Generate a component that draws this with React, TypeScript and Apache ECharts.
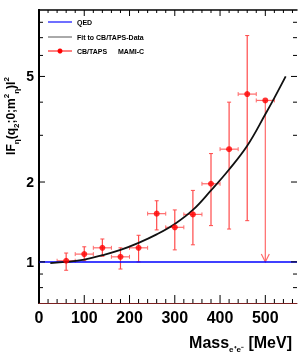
import React, { useEffect, useRef } from "react";
import * as echarts from "echarts";

const FONT = '"Liberation Sans", Arial, Helvetica, sans-serif';

const X_MIN = 0;
const X_MAX = 570;
const Y_MIN = 0.7;
const Y_MAX = 8.9;

const xMajorTicks = [0, 100, 200, 300, 400, 500];
const xMinorTicks = [20, 40, 60, 80, 120, 140, 160, 180, 220, 240, 260, 280, 320, 340, 360, 380, 420, 440, 460, 480, 520, 540, 560];
const yMajorTicks = [1, 2, 5];
const yMinorTicks = [0.8, 0.9, 3, 4, 6, 7, 8];
const yTickLabels = ["1", "2", "5"];

// QED prediction
const qedX = [0, 570];
const qedY = [1, 1];

// Fit to CB/TAPS data
const fitX = [25, 60, 100, 140, 180, 220, 260, 300, 340, 380, 420, 460, 500, 520, 545];
const fitY = [0.99, 1.0, 1.02, 1.06, 1.11, 1.18, 1.27, 1.39, 1.57, 1.86, 2.23, 2.74, 3.6, 4.15, 5.0];

// CB/TAPS MAMI-C data points
const dataX = [60, 100, 140, 180, 220, 260, 300, 340, 380, 420, 460];
const dataY = [1.01, 1.07, 1.13, 1.045, 1.13, 1.52, 1.35, 1.51, 1.97, 2.66, 4.29];
const dataXErr = [20, 20, 20, 20, 20, 20, 20, 20, 20, 20, 20];
const dataYLow = [0.93, 1.01, 1.05, 0.94, 1.0, 1.32, 1.11, 1.16, 1.37, 1.33, 1.43];
const dataYHigh = [1.08, 1.14, 1.22, 1.13, 1.26, 1.7, 1.57, 1.86, 2.56, 4.0, 7.13];

// upper-limit point
const limitX = [500];
const limitY = [4.06];
const limitXErr = [20];
const limitTo = [1.0];

const ERR_V = "#ff4a4a";
const ERR_H = "#ff6a6a";

function xTickSeries(values: number[], lenBottom: number, lenTop: number) {
  return {
    type: "custom",
    silent: true,
    z: 10,
    data: values.map((v) => [v, Y_MIN]),
    renderItem: (_p: any, api: any) => {
      const b = api.coord([api.value(0), Y_MIN]);
      const t = api.coord([api.value(0), Y_MAX]);
      return {
        type: "group",
        children: [
          { type: "line", shape: { x1: b[0], y1: b[1], x2: b[0], y2: b[1] - lenBottom }, style: { stroke: "#000", lineWidth: 1 } },
          { type: "line", shape: { x1: t[0], y1: t[1], x2: t[0], y2: t[1] + lenTop }, style: { stroke: "#000", lineWidth: 1 } },
        ],
      };
    },
  };
}

function yTickSeries(values: number[], len: number) {
  return {
    type: "custom",
    silent: true,
    z: 10,
    data: values.map((v) => [X_MIN, v]),
    renderItem: (_p: any, api: any) => {
      const l = api.coord([X_MIN, api.value(1)]);
      const r = api.coord([X_MAX, api.value(1)]);
      return {
        type: "group",
        children: [
          { type: "line", shape: { x1: l[0], y1: l[1], x2: l[0] + len, y2: l[1] }, style: { stroke: "#000", lineWidth: 1 } },
          { type: "line", shape: { x1: r[0], y1: r[1], x2: r[0] - len, y2: r[1] }, style: { stroke: "#000", lineWidth: 1 } },
        ],
      };
    },
  };
}

export default function App() {
  const ref = useRef<HTMLDivElement>(null);

  useEffect(() => {
    if (!ref.current) return;
    const chart = echarts.init(ref.current, undefined, { renderer: "svg" });

    const errData = dataX.map((x, i) => [x, dataY[i], dataXErr[i], dataYLow[i], dataYHigh[i]]);
    const limData = limitX.map((x, i) => [x, limitY[i], limitXErr[i], limitTo[i]]);

    const option: any = {
      animation: false,
      grid: { left: 39, right: 8, top: 10, bottom: 56 },
      xAxis: [
        {
          type: "value",
          min: X_MIN,
          max: X_MAX,
          interval: 100,
          position: "bottom",
          axisLine: { show: true, lineStyle: { color: "#7a2020", width: 1 } },
          axisTick: { show: false },
          splitLine: { show: false },
          axisLabel: {
            formatter: (v: number) => (v % 100 === 0 ? String(v) : ""),
            fontSize: 16,
            fontWeight: "bold",
            fontFamily: FONT,
            color: "#000",
            margin: 6,
          },
        },
        {
          type: "value",
          min: X_MIN,
          max: X_MAX,
          position: "top",
          axisLine: { show: true, lineStyle: { color: "#000", width: 1.5 } },
          axisTick: { show: false },
          axisLabel: { show: false },
          splitLine: { show: false },
        },
      ],
      yAxis: [
        {
          type: "log",
          min: Y_MIN,
          max: Y_MAX,
          position: "left",
          axisLine: { show: true, lineStyle: { color: "#000", width: 2 } },
          axisTick: { show: false },
          axisLabel: { show: false },
          splitLine: { show: false },
          minorSplitLine: { show: false },
        },
        {
          type: "log",
          min: Y_MIN,
          max: Y_MAX,
          position: "right",
          axisLine: { show: true, lineStyle: { color: "#000", width: 2 } },
          axisTick: { show: false },
          axisLabel: { show: false },
          splitLine: { show: false },
        },
      ],
      graphic: [
        // legend
        { type: "line", shape: { x1: 48, y1: 22, x2: 72, y2: 22 }, style: { stroke: "#6f6fff", lineWidth: 2 } },
        { type: "text", x: 77, y: 22, style: { text: "QED", font: `bold 7px ${FONT}`, fill: "#000", verticalAlign: "middle" } },
        { type: "line", shape: { x1: 48, y1: 37, x2: 72, y2: 37 }, style: { stroke: "#555", lineWidth: 1 } },
        { type: "text", x: 77, y: 37, style: { text: "Fit to CB/TAPS-Data", font: `bold 7px ${FONT}`, fill: "#000", verticalAlign: "middle" } },
        { type: "line", shape: { x1: 48, y1: 51, x2: 72, y2: 51 }, style: { stroke: "#ff0000", lineWidth: 1 } },
        { type: "circle", shape: { cx: 60, cy: 51, r: 2.5 }, style: { fill: "#ff0000" } },
        { type: "text", x: 77, y: 51, style: { text: "CB/TAPS", font: `bold 7px ${FONT}`, fill: "#000", verticalAlign: "middle" } },
        { type: "text", x: 118, y: 51, style: { text: "MAMI-C", font: `bold 7px ${FONT}`, fill: "#000", verticalAlign: "middle" } },
        // y-axis title
        {
          type: "text",
          x: 11,
          y: 116,
          rotation: Math.PI / 2,
          style: {
            text: "{m|IF}{s|η}{m|(q}{s|2}{m|;0;m}{p|2}{s|η}{m|)I}{p|2}",
            align: "center",
            verticalAlign: "middle",
            fill: "#000",
            rich: {
              m: { fontSize: 12, fontWeight: "bold", fontFamily: FONT, lineHeight: 18, verticalAlign: "middle" },
              s: { fontSize: 8, fontWeight: "bold", fontFamily: FONT, verticalAlign: "bottom", lineHeight: 18 },
              p: { fontSize: 8, fontWeight: "bold", fontFamily: FONT, verticalAlign: "top", lineHeight: 18 },
            },
          },
        },
        // x-axis title
        {
          type: "text",
          x: 292,
          y: 342,
          style: {
            text: "{m|Mass}{s|e⁺e⁻}{m| [MeV]}",
            align: "right",
            verticalAlign: "middle",
            fill: "#000",
            rich: {
              m: { fontSize: 16, fontWeight: "bold", fontFamily: FONT, lineHeight: 22, verticalAlign: "middle" },
              s: { fontSize: 8, fontWeight: "bold", fontFamily: FONT, lineHeight: 22, verticalAlign: "bottom" },
            },
          },
        },
      ],
      series: [
        xTickSeries(xMajorTicks, 8, 6),
        xTickSeries(xMinorTicks, 4, 3),
        yTickSeries(yMajorTicks, 6),
        yTickSeries(yMinorTicks, 4),
        {
          type: "custom",
          silent: true,
          z: 10,
          data: yMajorTicks.map((v) => [X_MIN, v]),
          renderItem: (p: any, api: any) => {
            const c = api.coord([X_MIN, api.value(1)]);
            return {
              type: "text",
              x: c[0] - 5,
              y: c[1],
              style: {
                text: yTickLabels[p.dataIndex],
                font: `bold 14px ${FONT}`,
                fill: "#000",
                align: "right",
                verticalAlign: "middle",
              },
            };
          },
        },
        {
          name: "errors",
          type: "custom",
          silent: true,
          z: 2,
          data: errData,
          renderItem: (_p: any, api: any) => {
            const x = api.value(0), y = api.value(1), xe = api.value(2), lo = api.value(3), hi = api.value(4);
            const l = api.coord([x - xe, y]);
            const r = api.coord([x + xe, y]);
            const pl = api.coord([x, lo]);
            const ph = api.coord([x, hi]);
            const cap = 2;
            return {
              type: "group",
              children: [
                { type: "line", shape: { x1: pl[0], y1: pl[1], x2: ph[0], y2: ph[1] }, style: { stroke: ERR_V, lineWidth: 1.2 } },
                { type: "line", shape: { x1: pl[0] - cap, y1: pl[1], x2: pl[0] + cap, y2: pl[1] }, style: { stroke: ERR_V, lineWidth: 1 } },
                { type: "line", shape: { x1: ph[0] - cap, y1: ph[1], x2: ph[0] + cap, y2: ph[1] }, style: { stroke: ERR_V, lineWidth: 1 } },
                { type: "line", shape: { x1: l[0], y1: l[1], x2: r[0], y2: r[1] }, style: { stroke: ERR_H, lineWidth: 1.2 } },
                { type: "line", shape: { x1: l[0], y1: l[1] - cap, x2: l[0], y2: l[1] + cap }, style: { stroke: ERR_H, lineWidth: 1 } },
                { type: "line", shape: { x1: r[0], y1: r[1] - cap, x2: r[0], y2: r[1] + cap }, style: { stroke: ERR_H, lineWidth: 1 } },
              ],
            };
          },
        },
        {
          name: "limit",
          type: "custom",
          silent: true,
          z: 2,
          data: limData,
          renderItem: (_p: any, api: any) => {
            const x = api.value(0), y = api.value(1), xe = api.value(2), to = api.value(3);
            const c = api.coord([x, y]);
            const l = api.coord([x - xe, y]);
            const r = api.coord([x + xe, y]);
            const t = api.coord([x, to]);
            const cap = 2;
            return {
              type: "group",
              children: [
                { type: "line", shape: { x1: c[0], y1: c[1], x2: t[0], y2: t[1] }, style: { stroke: ERR_H, lineWidth: 1.2 } },
                { type: "polyline", shape: { points: [[t[0] - 4, t[1] - 8], [t[0], t[1]], [t[0] + 4, t[1] - 8]] }, style: { stroke: ERR_H, lineWidth: 1.2, fill: "none" } },
                { type: "line", shape: { x1: l[0], y1: l[1], x2: r[0], y2: r[1] }, style: { stroke: ERR_H, lineWidth: 1.2 } },
                { type: "line", shape: { x1: l[0], y1: l[1] - cap, x2: l[0], y2: l[1] + cap }, style: { stroke: ERR_H, lineWidth: 1 } },
                { type: "line", shape: { x1: r[0], y1: r[1] - cap, x2: r[0], y2: r[1] + cap }, style: { stroke: ERR_H, lineWidth: 1 } },
              ],
            };
          },
        },
        {
          name: "QED",
          type: "line",
          z: 3,
          data: qedX.map((x, i) => [x, qedY[i]]),
          showSymbol: false,
          lineStyle: { color: "#0000ff", width: 1.5 },
          silent: true,
        },
        {
          name: "Fit to CB/TAPS-Data",
          type: "line",
          z: 4,
          data: fitX.map((x, i) => [x, fitY[i]]),
          smooth: 0.4,
          showSymbol: false,
          lineStyle: { color: "#111", width: 1.8 },
          silent: true,
        },
        {
          name: "CB/TAPS MAMI-C",
          type: "scatter",
          z: 5,
          data: [...dataX.map((x, i) => [x, dataY[i]]), ...limitX.map((x, i) => [x, limitY[i]])],
          symbol: "circle",
          symbolSize: 6,
          itemStyle: { color: "#ff0000" },
          silent: true,
        },
      ],
    };

    chart.setOption(option);
    return () => chart.dispose();
  }, []);

  return <div ref={ref} style={{ position: "fixed", left: 0, top: 0, width: 305, height: 359 }} />;
}
